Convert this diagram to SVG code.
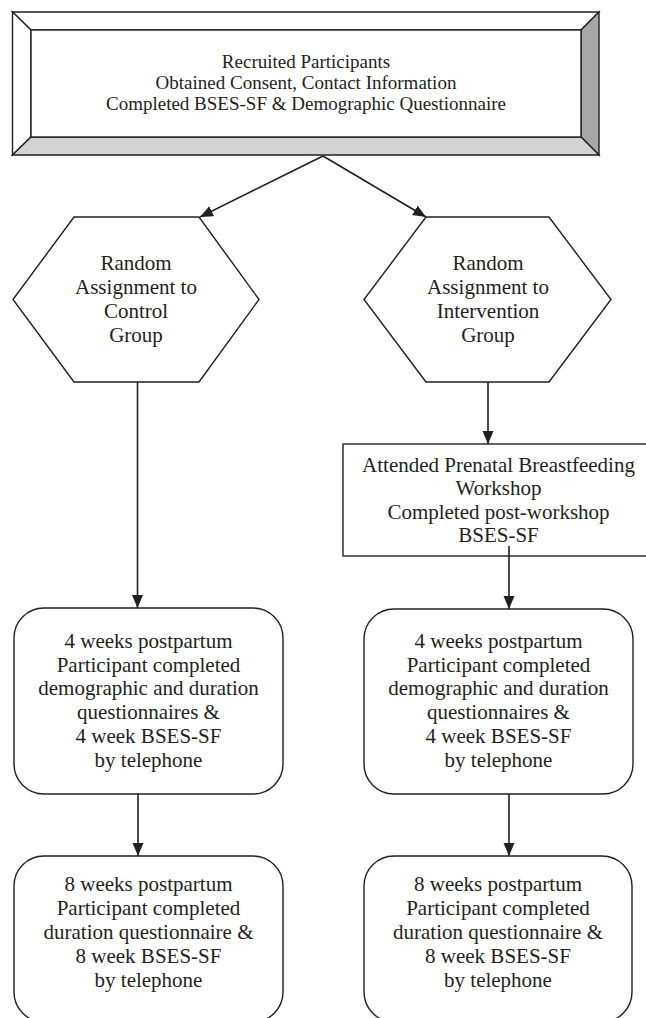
<svg xmlns="http://www.w3.org/2000/svg" width="646" height="1018" viewBox="0 0 646 1018">
<style>
text{font-size:21px;fill:#231f20;text-anchor:middle}
.top text{font-size:19px}
.shape{fill:#fff;stroke:#231f20;stroke-width:1.4}
.edge{stroke:#231f20;stroke-width:1.6;fill:none}
.bev{stroke:#231f20;stroke-width:1.4;stroke-linejoin:miter}
</style>
<defs>
<marker id="ah" markerUnits="userSpaceOnUse" markerWidth="14" markerHeight="12" refX="13" refY="5.5" orient="auto">
<path d="M0,0 L13,5.5 L0,11 z" fill="#231f20"/>
</marker>
</defs>
<rect width="646" height="1018" fill="#fff"/>
<g font-family="Liberation Serif, DejaVu Serif, serif">
<g id="recruited" class="top">
<polygon class="bev" points="12.5,12 599,12 581,30 31,30" fill="#fff"/>
<polygon class="bev" points="12.5,12 31,30 31,137 12.5,155" fill="#fff"/>
<polygon class="bev" points="599,12 599,155 581,137 581,30" fill="#a7a7a9"/>
<polygon class="bev" points="12.5,155 31,137 581,137 599,155" fill="#d3d3d5"/>
<rect class="shape" x="31" y="30" width="550" height="107"/>
<text x="306" y="68">Recruited Participants</text>
<text x="306" y="89">Obtained Consent, Contact Information</text>
<text x="306" y="109.5">Completed BSES-SF &amp; Demographic Questionnaire</text>
</g>
<g id="control">
<polygon class="shape" points="74,217 199,217 259,299.5 199,382 74,382 13,299.5"/>
<text x="136" y="270">Random</text>
<text x="136" y="294">Assignment to</text>
<text x="136" y="318">Control</text>
<text x="136" y="342">Group</text>
</g>
<g id="intervention">
<polygon class="shape" points="426,217 549,217 611,299.5 549,382 426,382 364,299.5"/>
<text x="488" y="270">Random</text>
<text x="488" y="294">Assignment to</text>
<text x="488" y="318">Intervention</text>
<text x="488" y="342">Group</text>
</g>
<g id="workshop">
<rect class="shape" x="343" y="444" width="320" height="112"/>
<text x="498.5" y="472">Attended Prenatal Breastfeeding</text>
<text x="498.5" y="495">Workshop</text>
<text x="498.5" y="518.5">Completed post-workshop</text>
<text x="498.5" y="542">BSES-SF</text>
</g>
<g id="control4">
<rect class="shape" x="14" y="608" width="269" height="186" rx="30" ry="30"/>
<text x="148.5" y="648">4 weeks postpartum</text>
<text x="148.5" y="671.7">Participant completed</text>
<text x="148.5" y="695.4">demographic and duration</text>
<text x="148.5" y="719.1">questionnaires &amp;</text>
<text x="148.5" y="742.8">4 week BSES-SF</text>
<text x="148.5" y="766.5">by telephone</text>
</g>
<g id="intervention4">
<rect class="shape" x="364" y="609" width="269" height="185" rx="30" ry="30"/>
<text x="498.5" y="648">4 weeks postpartum</text>
<text x="498.5" y="671.7">Participant completed</text>
<text x="498.5" y="695.4">demographic and duration</text>
<text x="498.5" y="719.1">questionnaires &amp;</text>
<text x="498.5" y="742.8">4 week BSES-SF</text>
<text x="498.5" y="766.5">by telephone</text>
</g>
<g id="control8">
<rect class="shape" x="14" y="856" width="269" height="166" rx="30" ry="30"/>
<text x="148.5" y="891">8 weeks postpartum</text>
<text x="148.5" y="915">Participant completed</text>
<text x="148.5" y="939">duration questionnaire &amp;</text>
<text x="148.5" y="963">8 week BSES-SF</text>
<text x="148.5" y="987">by telephone</text>
</g>
<g id="intervention8">
<rect class="shape" x="364" y="856" width="268" height="166" rx="30" ry="30"/>
<text x="498" y="891">8 weeks postpartum</text>
<text x="498" y="915">Participant completed</text>
<text x="498" y="939">duration questionnaire &amp;</text>
<text x="498" y="963">8 week BSES-SF</text>
<text x="498" y="987">by telephone</text>
</g>
</g>
<g id="connectors">
<line class="edge" x1="323" y1="156" x2="200" y2="217" marker-end="url(#ah)"/>
<line class="edge" x1="323" y1="156" x2="426" y2="217" marker-end="url(#ah)"/>
<line class="edge" x1="137.5" y1="382" x2="137.5" y2="608" marker-end="url(#ah)"/>
<line class="edge" x1="488" y1="382" x2="488" y2="444" marker-end="url(#ah)"/>
<line class="edge" x1="509" y1="546" x2="509" y2="609" marker-end="url(#ah)"/>
<line class="edge" x1="138" y1="794" x2="138" y2="856" marker-end="url(#ah)"/>
<line class="edge" x1="509" y1="794" x2="509" y2="856" marker-end="url(#ah)"/>
</g>
</svg>
